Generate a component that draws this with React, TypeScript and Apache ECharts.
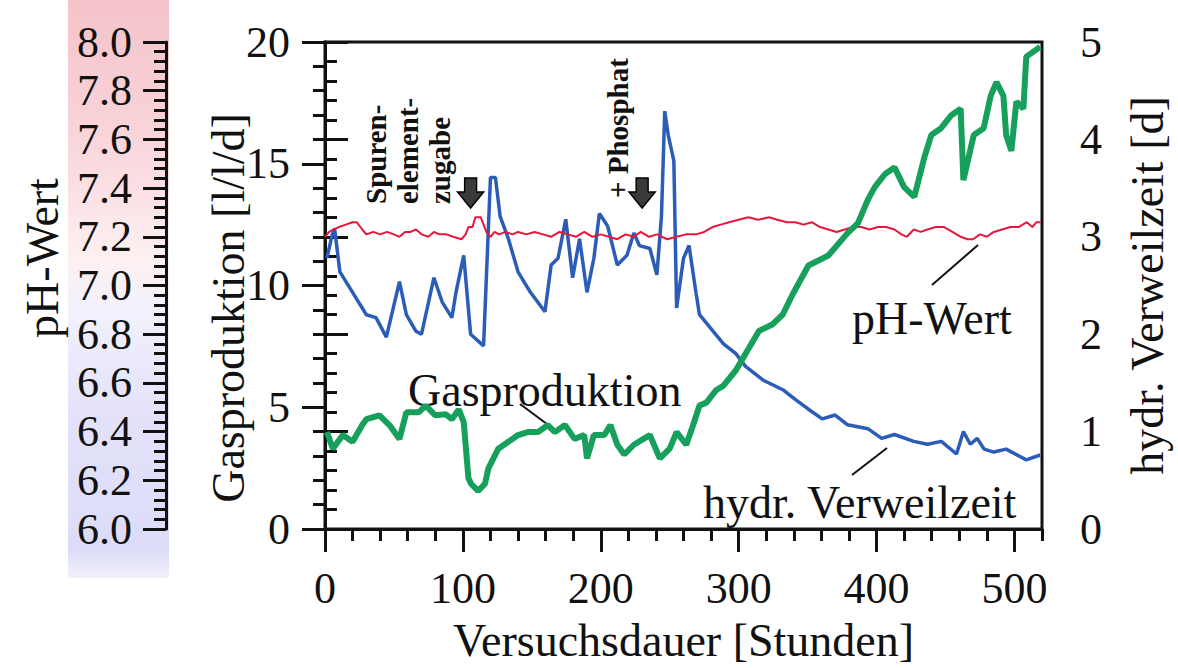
import React, { useEffect, useRef } from 'react';
import * as echarts from 'echarts';

// ---- Data ----
const xTickValues = [0, 100, 200, 300, 400, 500];

// Gasproduktion [l/l/d] (left axis)
const gasHours = [1.4, 5.7, 12.9, 20, 27, 30, 39.5, 46.7, 54, 59, 68, 73, 80, 87.6, 92, 97, 100.6, 104, 106, 111, 116, 118.5, 125.7, 133, 140, 147, 154.5, 161.6, 166.7, 174, 181, 188, 190, 195, 202.6, 207, 212, 217, 224, 231, 235.6, 242.8, 250, 255, 262, 267, 271.6, 276.6, 283.8, 288.8, 298, 305, 314.7, 324.7, 332, 339, 350.6, 365, 379, 386.5, 393.7, 398.7, 406, 413, 420, 427.4, 434.6, 439.7, 446.8, 454, 461, 463, 470.5, 477.7, 482.8, 487, 492, 494, 497.8, 501.4, 506.5, 508.6, 518.7];
const gasValues = [3.98, 3.3, 3.86, 3.58, 4.27, 4.51, 4.67, 4.27, 3.7, 4.79, 4.79, 5.07, 4.67, 4.71, 4.51, 4.91, 4.39, 2.09, 1.85, 1.57, 1.85, 2.49, 3.3, 3.58, 3.86, 3.98, 3.98, 4.27, 3.98, 4.27, 3.7, 3.86, 2.9, 3.86, 3.86, 4.27, 3.46, 3.06, 3.46, 3.7, 3.86, 2.9, 3.3, 3.98, 3.46, 4.27, 5.07, 5.19, 5.71, 5.88, 6.52, 7.2, 8.13, 8.41, 8.81, 9.62, 10.82, 11.23, 12.15, 12.56, 13.52, 14.04, 14.57, 14.85, 14.04, 13.64, 15.25, 16.18, 16.46, 16.98, 17.26, 14.33, 16.18, 16.46, 17.79, 18.35, 17.79, 16.18, 15.53, 17.55, 17.26, 19.4, 19.8];

// hydr. Verweilzeit [d] (right axis)
const hrtHours = [1.4, 5, 7, 10.8, 20, 30, 37, 44.5, 54, 59, 66, 70, 79, 85, 92, 95, 100.6, 105.6, 115, 120, 123.6, 127, 133, 140, 149, 159.5, 164, 169, 174.6, 179.6, 184.6, 190, 195, 199, 205, 212, 219, 224, 228, 235.6, 240.7, 244, 246.4, 249, 253, 255, 260, 264, 269, 271.6, 289, 298, 305, 317.5, 332, 341, 350.6, 360.6, 370, 379, 393.7, 403.7, 413, 427, 437, 447, 458, 463, 468, 473, 478, 485, 494, 508.6, 518.7];
const hrtValues = [2.78, 3.01, 3.08, 2.64, 2.43, 2.2, 2.17, 1.97, 2.54, 2.2, 2.03, 2.0, 2.58, 2.33, 2.17, 2.43, 2.81, 2.0, 1.88, 3.61, 3.61, 3.21, 2.98, 2.64, 2.43, 2.23, 2.71, 2.78, 3.18, 2.58, 2.98, 2.43, 2.78, 3.24, 3.11, 2.71, 2.81, 3.04, 2.91, 2.88, 2.61, 3.21, 4.29, 4.04, 3.78, 2.27, 2.78, 2.91, 2.43, 2.2, 1.9, 1.8, 1.67, 1.53, 1.43, 1.33, 1.23, 1.13, 1.17, 1.07, 1.03, 0.93, 0.97, 0.9, 0.87, 0.9, 0.77, 1.0, 0.87, 0.93, 0.82, 0.79, 0.82, 0.71, 0.76];

// pH-Wert (outer left axis)
const phHours = [0, 3, 6, 10, 15, 20, 23, 27, 30, 35, 40, 45, 50, 54, 58, 62, 66, 70, 75, 79, 83, 88, 93, 99, 102, 104, 107, 109, 113, 115, 117, 120, 123, 126, 131, 136, 140, 146, 152, 158, 164, 170, 176, 182, 188, 194, 200, 206, 212, 218, 224, 229, 235, 241, 248, 255, 262, 269, 275, 281, 287, 293, 300, 307, 314, 322, 328, 335, 341, 347, 353, 359, 365, 371, 377, 383, 389, 395, 401, 407, 413, 418, 422, 427, 432, 437, 443, 449, 455, 461, 466, 470, 475, 480, 485, 491, 497, 503, 509, 513, 516, 519];
const phValues = [7.2, 7.22, 7.23, 7.24, 7.25, 7.26, 7.26, 7.23, 7.21, 7.22, 7.21, 7.22, 7.21, 7.2, 7.22, 7.22, 7.23, 7.21, 7.2, 7.22, 7.21, 7.21, 7.2, 7.19, 7.21, 7.24, 7.24, 7.28, 7.28, 7.25, 7.22, 7.2, 7.22, 7.21, 7.22, 7.21, 7.22, 7.21, 7.22, 7.21, 7.2, 7.22, 7.21, 7.2, 7.22, 7.2, 7.21, 7.2, 7.19, 7.21, 7.2, 7.22, 7.2, 7.21, 7.19, 7.2, 7.21, 7.21, 7.22, 7.24, 7.25, 7.26, 7.27, 7.28, 7.27, 7.28, 7.27, 7.26, 7.26, 7.25, 7.26, 7.24, 7.23, 7.22, 7.23, 7.24, 7.24, 7.23, 7.24, 7.24, 7.23, 7.21, 7.2, 7.23, 7.22, 7.23, 7.24, 7.24, 7.22, 7.2, 7.19, 7.19, 7.21, 7.2, 7.22, 7.23, 7.24, 7.24, 7.26, 7.24, 7.26, 7.26];

// event markers [hours, gas-axis value]
const eventHours = [105.6, 230];
const eventLevel = 13.8;

const zip = (a: number[], b: number[]) => a.map((v, i) => [v, b[i]]);

const FONT = '"Liberation Serif", "Times New Roman", serif';
const INK = '#111';
const GREEN = '#16a05c';
const BLUE = '#2b5cb8';
const RED = '#e5173d';

const axisLine = { show: true, lineStyle: { color: INK, width: 3 } };
const tickStyle = { color: INK, width: 3 };
const labelStyle = { fontSize: 44, fontFamily: FONT, color: INK };

export default function App() {
  const ref = useRef<HTMLDivElement>(null);

  useEffect(() => {
    if (!ref.current) return;
    const chart = echarts.init(ref.current, null, { renderer: 'svg' });
    const arrowPath = 'path://M7,0 L19,0 L19,14 L26,14 L13,30 L0,14 L7,14 Z';

    chart.setOption({
      animation: false,
      backgroundColor: '#ffffff',
      grid: {
        left: 325, right: 129, top: 42, bottom: 129,
        show: true, borderColor: INK, borderWidth: 3, backgroundColor: 'transparent',
      },
      xAxis: [
        {
          type: 'value', min: 0, max: 520, interval: 100, position: 'bottom',
          axisLine,
          axisTick: { show: true, length: 23, lineStyle: tickStyle, customValues: xTickValues },
          axisLabel: { ...labelStyle, margin: 37, customValues: xTickValues },
          splitLine: { show: false },
          name: 'Versuchsdauer [Stunden]', nameLocation: 'middle', nameGap: 88,
          nameTextStyle: { fontSize: 46, fontFamily: FONT, color: INK },
        },
        {
          type: 'value', min: 0, max: 520, interval: 20, position: 'bottom',
          axisLine: { show: false },
          axisTick: { show: true, length: 12, lineStyle: tickStyle },
          axisLabel: { show: false },
          splitLine: { show: false },
        },
      ],
      yAxis: [
        {
          type: 'value', min: 0, max: 20, interval: 5, position: 'left',
          axisLine,
          axisTick: { show: true, length: 23, lineStyle: tickStyle },
          minorTick: { show: true, splitNumber: 5, length: 12, lineStyle: tickStyle },
          axisLabel: { ...labelStyle, margin: 35 },
          splitLine: { show: false }, minorSplitLine: { show: false },
        },
        {
          type: 'value', min: 0, max: 5, interval: 1, position: 'right',
          axisLine,
          axisTick: { show: true, length: 23, lineStyle: tickStyle },
          minorTick: { show: true, splitNumber: 5, length: 12, lineStyle: tickStyle },
          axisLabel: { ...labelStyle, margin: 38 },
          splitLine: { show: false }, minorSplitLine: { show: false },
          name: 'hydr. Verweilzeit [d]', nameLocation: 'middle', nameGap: 82, nameRotate: 90,
          nameTextStyle: { fontSize: 46, fontFamily: FONT, color: INK },
        },
        {
          type: 'value', min: 6, max: 8, interval: 0.2, position: 'left', offset: 159,
          axisLine,
          axisTick: { show: true, length: 23, lineStyle: tickStyle },
          minorTick: { show: true, splitNumber: 5, length: 12, lineStyle: tickStyle },
          axisLabel: { ...labelStyle, margin: 34, formatter: (v: number) => v.toFixed(1) },
          splitLine: { show: false }, minorSplitLine: { show: false },
        },
      ],
      graphic: [
        {
          type: 'rect', z: -10, silent: true,
          shape: { x: 68, y: 0, width: 101, height: 578 },
          style: {
            fill: new echarts.graphic.LinearGradient(0, 0, 0, 1, [
              { offset: 0, color: '#f5c3ca' },
              { offset: 0.22, color: '#f8d3d8' },
              { offset: 0.45, color: '#fdf0f1' },
              { offset: 0.53, color: '#f3f1fc' },
              { offset: 0.72, color: '#e3e2f9' },
              { offset: 0.95, color: '#dcdcf8' },
              { offset: 1, color: '#f1f1fc' },
            ]),
          },
        },
        {
          type: 'text', x: 42, y: 258, rotation: Math.PI / 2,
          style: { text: 'pH-Wert', font: `46px ${FONT}`, fill: INK, align: 'center', verticalAlign: 'middle' },
        },
        {
          type: 'text', x: 228, y: 308, rotation: Math.PI / 2,
          style: { text: 'Gasproduktion [l/l/d]', font: `46px ${FONT}`, fill: INK, align: 'center', verticalAlign: 'middle' },
        },
        {
          type: 'text', x: 360, y: 204, rotation: Math.PI / 2,
          style: {
            text: 'Spuren-\nelement-\nzugabe', font: `bold 29px ${FONT}`, lineHeight: 32,
            fill: INK, align: 'left', verticalAlign: 'top',
          },
        },
        {
          type: 'text', x: 603, y: 198, rotation: Math.PI / 2,
          style: { text: '+ Phosphat', font: `bold 29px ${FONT}`, fill: INK, align: 'left', verticalAlign: 'top' },
        },
        {
          type: 'text', x: 408, y: 390,
          style: { text: 'Gasproduktion', font: `46px ${FONT}`, fill: INK, align: 'left', verticalAlign: 'middle' },
        },
        { type: 'line', shape: { x1: 520, y1: 404, x2: 555, y2: 430 }, style: { stroke: INK, lineWidth: 2 } },
        {
          type: 'text', x: 852, y: 318,
          style: { text: 'pH-Wert', font: `46px ${FONT}`, fill: INK, align: 'left', verticalAlign: 'middle' },
        },
        { type: 'line', shape: { x1: 932, y1: 285, x2: 978, y2: 245 }, style: { stroke: INK, lineWidth: 2 } },
        {
          type: 'text', x: 703, y: 502,
          style: { text: 'hydr. Verweilzeit', font: `46px ${FONT}`, fill: INK, align: 'left', verticalAlign: 'middle' },
        },
        { type: 'line', shape: { x1: 852, y1: 475, x2: 887, y2: 448 }, style: { stroke: INK, lineWidth: 2 } },
      ],
      series: [
        {
          type: 'line', name: 'hydr. Verweilzeit', xAxisIndex: 0, yAxisIndex: 1,
          data: zip(hrtHours, hrtValues), symbol: 'none',
          lineStyle: { color: BLUE, width: 3.5 }, z: 2,
        },
        {
          type: 'line', name: 'pH-Wert', xAxisIndex: 0, yAxisIndex: 2,
          data: zip(phHours, phValues), symbol: 'none',
          lineStyle: { color: RED, width: 2 }, z: 3,
        },
        {
          type: 'line', name: 'Gasproduktion', xAxisIndex: 0, yAxisIndex: 0,
          data: zip(gasHours, gasValues), symbol: 'none',
          lineStyle: { color: GREEN, width: 6 }, z: 4,
          markPoint: {
            symbol: arrowPath, symbolSize: [26, 30], silent: true,
            itemStyle: { color: '#3a3a3a', borderColor: '#000', borderWidth: 1.5 },
            label: { show: false },
            data: eventHours.map((h) => ({ coord: [h, eventLevel] })),
          },
        },
      ],
    });
    return () => chart.dispose();
  }, []);

  return <div ref={ref} style={{ position: 'fixed', left: 0, top: 0, width: 1178, height: 668 }} />;
}
